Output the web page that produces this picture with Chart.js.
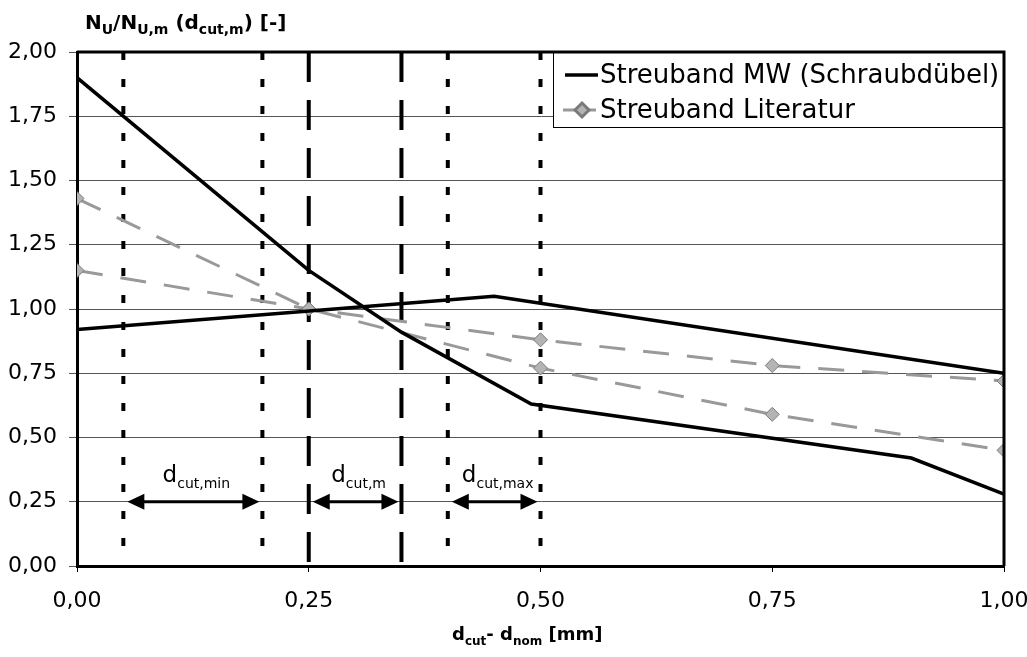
<!DOCTYPE html>
<html>
<head>
<meta charset="utf-8">
<script src="https://cdn.jsdelivr.net/npm/chart.js@4.4.1/dist/chart.umd.min.js"></script>
<style>
  html, body { margin: 0; padding: 0; background: #fff; }
  canvas { display: block; }
</style>
</head>
<body>
<canvas id="chart" width="1027" height="657"></canvas>
<script>
// Streuband MW (Schraubdübel): obere und untere Grenzlinie
const mwAX = [0, 0.25, 0.35, 0.49, 0.90, 1.00];
const mwAY = [1.90, 1.15, 0.91, 0.63, 0.42, 0.28];
const mwBX = [0, 0.45, 1.00];
const mwBY = [0.92, 1.05, 0.75];

// Streuband Literatur
const litX = [0, 0.25, 0.50, 0.75, 1.00];
const litAY = [1.43, 1.00, 0.77, 0.59, 0.45];
const litBY = [1.15, 1.00, 0.88, 0.78, 0.72];

// senkrechte Linien der Schnittdurchmesser
const cutLines = [0.05, 0.20, 0.25, 0.35, 0.40, 0.50];
const cutKinds = ['dot', 'dot', 'dash', 'dash', 'dot', 'dot'];

// Bereiche mit Doppelpfeil
const rangeFrom = [0.05, 0.25, 0.40];
const rangeTo = [0.20, 0.35, 0.50];
const rangeSub = ['cut,min', 'cut,m', 'cut,max'];
const arrowLevel = 0.25;

const xTicks = [0, 0.25, 0.50, 0.75, 1.00];
const yTicks = [0, 0.25, 0.50, 0.75, 1.00, 1.25, 1.50, 1.75, 2.00];

const FONT = '"DejaVu Sans", "Liberation Sans", Arial, sans-serif';
const fmt = v => Number(v).toFixed(2).replace('.', ',');
const pts = (xs, ys) => xs.map((x, i) => ({ x: x, y: ys[i] }));

// Text mit Tiefstellungen: parts = [[text, isSub], ...]
function richWidth(ctx, parts, size, sub, bold) {
    let w = 0;
    parts.forEach(p => {
        ctx.font = (bold ? 'bold ' : '') + (p[1] ? sub : size) + 'px ' + FONT;
        w += ctx.measureText(p[0]).width;
    });
    return w;
}
function drawRich(ctx, parts, x, y, size, sub, bold) {
    ctx.textBaseline = 'alphabetic';
    ctx.textAlign = 'left';
    parts.forEach(p => {
        ctx.font = (bold ? 'bold ' : '') + (p[1] ? sub : size) + 'px ' + FONT;
        ctx.fillText(p[0], x, p[1] ? y + size * 0.25 : y);
        x += ctx.measureText(p[0]).width;
    });
}

const MW_STYLE = { borderColor: '#000', borderWidth: 3.5, pointRadius: 0, fill: false, tension: 0 };
const LIT_STYLE = {
    borderColor: '#999', borderWidth: 3, borderDash: [26, 18], fill: false, tension: 0,
    pointStyle: 'rectRot', pointRadius: 7, pointBackgroundColor: '#b4b4b4',
    pointBorderColor: '#7a7a7a', pointBorderWidth: 1
};

const datasets = [
    Object.assign({ label: 'Streuband MW (Schraubdübel)', data: pts(mwAX, mwAY) }, MW_STYLE),
    Object.assign({ label: 'Streuband MW (Schraubdübel)', data: pts(mwBX, mwBY) }, MW_STYLE),
    Object.assign({ label: 'Streuband Literatur', data: pts(litX, litAY) }, LIT_STYLE),
    Object.assign({ label: 'Streuband Literatur', data: pts(litX, litBY) }, LIT_STYLE)
];
cutLines.forEach((v, i) => {
    datasets.push({
        label: 'cut',
        data: [{ x: v, y: yTicks[yTicks.length - 1] }, { x: v, y: yTicks[0] }],
        borderColor: '#000',
        borderWidth: 4,
        borderDash: cutKinds[i] === 'dot' ? [8, 19] : [30, 18],
        borderCapStyle: 'butt',
        pointRadius: 0,
        fill: false
    });
});

const overlay = {
    id: 'overlay',
    afterDraw(chart) {
        const { ctx, chartArea: a, scales: { x, y } } = chart;
        ctx.save();
        ctx.fillStyle = '#000';
        ctx.strokeStyle = '#000';

        // Doppelpfeile mit Beschriftung
        const yp = y.getPixelForValue(arrowLevel);
        rangeFrom.forEach((v, i) => {
            const x1 = x.getPixelForValue(v) + 4;
            const x2 = x.getPixelForValue(rangeTo[i]) - 3;
            ctx.lineWidth = 3;
            ctx.beginPath();
            ctx.moveTo(x1 + 8, yp);
            ctx.lineTo(x2 - 8, yp);
            ctx.stroke();
            ctx.beginPath();
            ctx.moveTo(x1, yp); ctx.lineTo(x1 + 17, yp - 8); ctx.lineTo(x1 + 17, yp + 8); ctx.closePath();
            ctx.moveTo(x2, yp); ctx.lineTo(x2 - 17, yp - 8); ctx.lineTo(x2 - 17, yp + 8); ctx.closePath();
            ctx.fill();
            const parts = [['d', false], [rangeSub[i], true]];
            const w = richWidth(ctx, parts, 23, 14, false);
            drawRich(ctx, parts, (x1 + x2) / 2 - w / 2 + 3, yp - 20, 23, 14, false);
        });

        // Legende
        const lx = 553, ly = a.top, lw = a.right - 553, lh = 75;
        ctx.fillStyle = '#fff';
        ctx.fillRect(lx, ly, lw, lh);
        ctx.lineWidth = 1;
        ctx.strokeRect(lx + 0.5, ly + 0.5, lw, lh);
        const m = chart.data.datasets;
        ctx.lineWidth = m[0].borderWidth;
        ctx.strokeStyle = m[0].borderColor;
        ctx.beginPath(); ctx.moveTo(565, ly + 23); ctx.lineTo(598, ly + 23); ctx.stroke();
        ctx.strokeStyle = m[2].borderColor;
        ctx.lineWidth = m[2].borderWidth;
        ctx.setLineDash([13, 7]);
        ctx.beginPath(); ctx.moveTo(563, ly + 58); ctx.lineTo(599, ly + 58); ctx.stroke();
        ctx.setLineDash([]);
        ctx.fillStyle = m[2].pointBackgroundColor;
        ctx.strokeStyle = m[2].pointBorderColor;
        ctx.beginPath();
        ctx.moveTo(582, ly + 51); ctx.lineTo(589, ly + 58); ctx.lineTo(582, ly + 65); ctx.lineTo(575, ly + 58); ctx.closePath();
        ctx.fill(); ctx.stroke();
        ctx.fillStyle = '#000';
        ctx.font = '26px ' + FONT;
        ctx.textBaseline = 'middle';
        ctx.fillText(m[0].label, 600, ly + 24);
        ctx.fillText(m[2].label, 600, ly + 59);

        // Rahmen oben und rechts
        ctx.strokeStyle = '#000';
        ctx.lineWidth = 3;
        ctx.beginPath();
        ctx.moveTo(a.left, a.top); ctx.lineTo(a.right, a.top); ctx.lineTo(a.right, a.bottom);
        ctx.stroke();

        // Achsentitel
        ctx.fillStyle = '#000';
        drawRich(ctx, [['N', false], ['U', true], ['/N', false], ['U,m', true], [' (d', false], ['cut,m', true], [') [-]', false]], 85, 29, 20, 14, true);
        drawRich(ctx, [['d', false], ['cut', true], ['- d', false], ['nom', true], [' [mm]', false]], 452, 640, 18, 12, true);
        ctx.restore();
    }
};

new Chart(document.getElementById('chart'), {
    type: 'line',
    data: { datasets: datasets },
    options: {
        responsive: false,
        animation: false,
        layout: { padding: { left: 0, right: 0, top: 52, bottom: 0 } },
        plugins: { legend: { display: false }, tooltip: { enabled: false } },
        scales: {
            x: {
                type: 'linear',
                min: xTicks[0],
                max: xTicks[xTicks.length - 1],
                afterBuildTicks: s => { s.ticks = xTicks.map(v => ({ value: v })); },
                afterFit: s => { s.height = 91; s.paddingRight = 23; },
                grid: { drawOnChartArea: false, drawTicks: true, tickLength: 6, color: '#000' },
                border: { color: '#000', width: 3 },
                ticks: { callback: fmt, color: '#000', font: { family: FONT, size: 22 }, padding: 16, maxRotation: 0 }
            },
            y: {
                min: yTicks[0],
                max: yTicks[yTicks.length - 1],
                afterBuildTicks: s => { s.ticks = yTicks.map(v => ({ value: v })); },
                afterFit: s => { s.width = 77; },
                grid: { color: '#555', lineWidth: 1, drawTicks: true, tickLength: 8 },
                border: { color: '#000', width: 3 },
                ticks: { callback: fmt, color: '#000', font: { family: FONT, size: 22 }, padding: 12 }
            }
        }
    },
    plugins: [overlay]
});
</script>
</body>
</html>
